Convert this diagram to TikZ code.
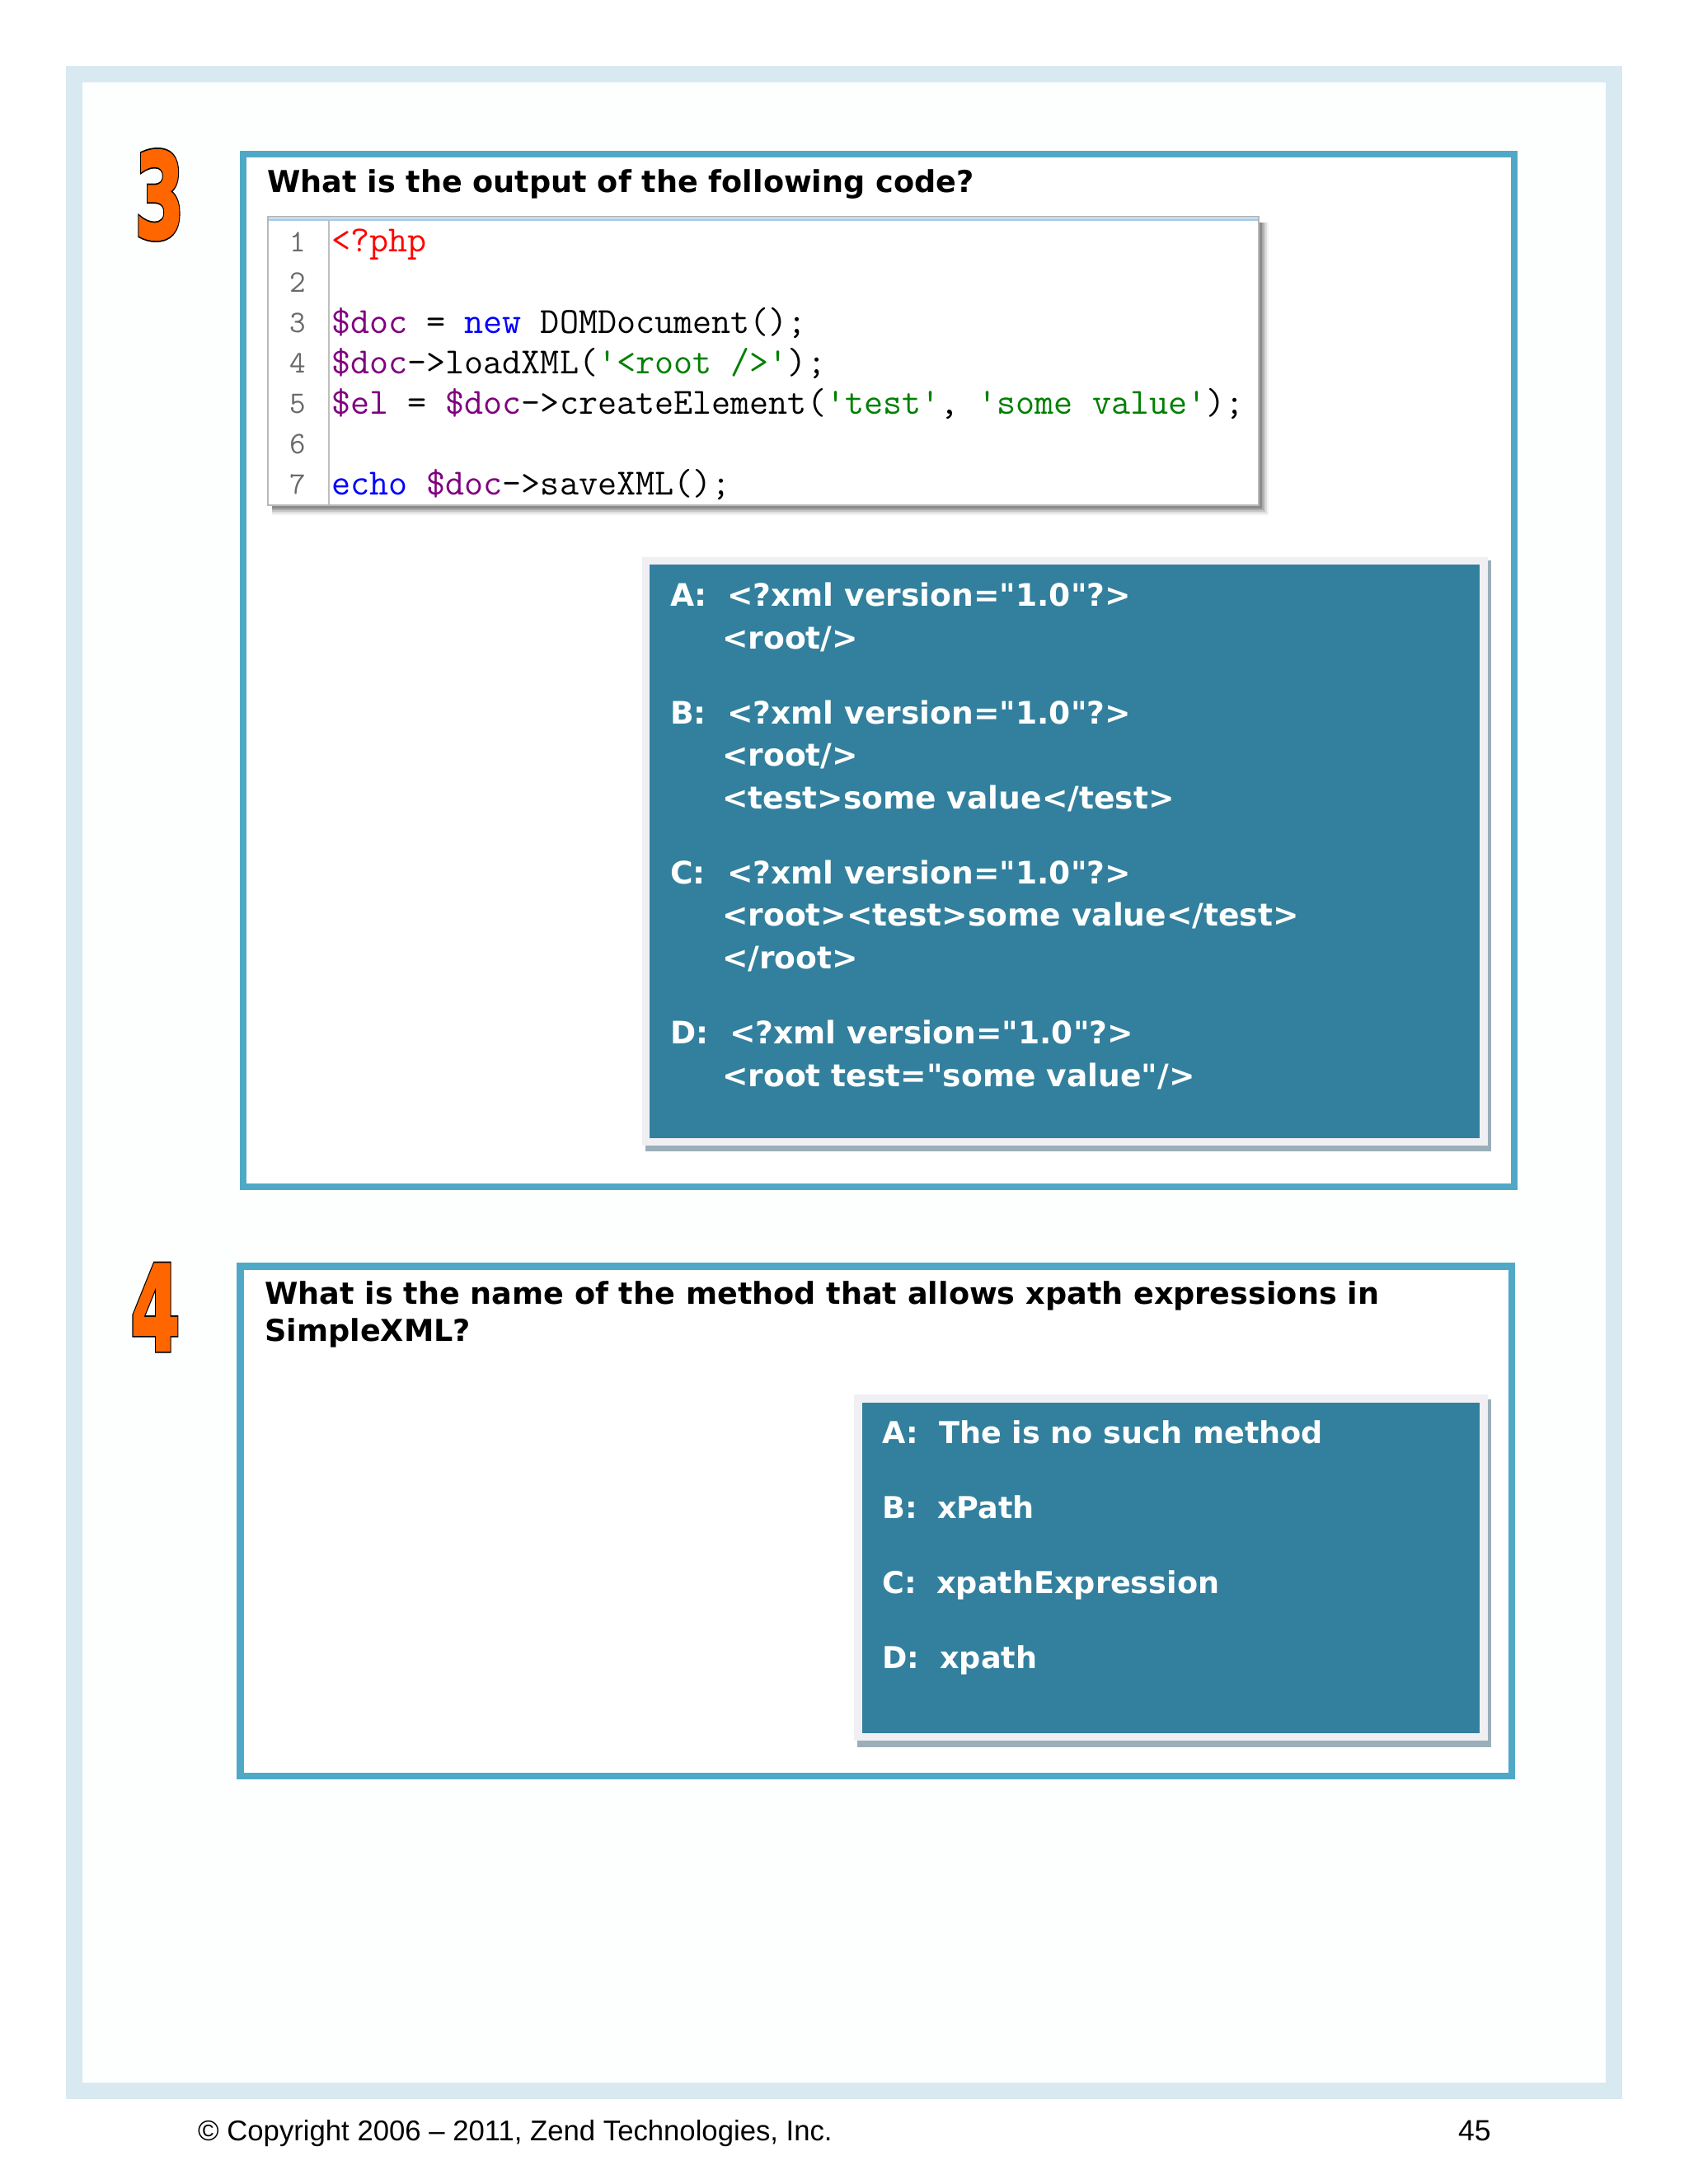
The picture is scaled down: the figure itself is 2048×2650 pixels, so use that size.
\documentclass[tikz,border=0pt]{standalone}
\usepackage{fontspec}
\setmainfont{Liberation Sans}
\newfontfamily\qfont{DejaVu Sans}
\newfontface\digout[FakeBold=5]{DejaVu Sans Bold}
\newfontface\digin[FakeBold=2.5]{DejaVu Sans Bold}
\definecolor{band}{HTML}{D9E9F1}
\definecolor{paper}{HTML}{FDFEFE}
\definecolor{qblue}{HTML}{4FA9C6}
\definecolor{ansbg}{HTML}{32809D}
\definecolor{ansedge}{HTML}{F0F0F4}
\definecolor{ansshadow}{HTML}{9AAFB8}
\definecolor{digit}{HTML}{FF6600}
\definecolor{kvar}{HTML}{800080}
\definecolor{kkey}{HTML}{0000FF}
\definecolor{kstr}{HTML}{008000}
\definecolor{kphp}{HTML}{FF0000}
\definecolor{knum}{HTML}{6A6A6A}
\definecolor{codetop}{HTML}{A9CBE8}
\tikzset{
 qframe/.style={draw=qblue,line width=8.4pt,fill=white},
 qtext/.style={anchor=base west,inner sep=0pt,text=black,font=\qfont\bfseries\fontsize{36.6}{44}\selectfont},
 atext/.style={anchor=base west,inner sep=0pt,text=white,font=\qfont\bfseries\fontsize{37.6}{44}\selectfont},
 btext/.style={anchor=base west,inner sep=0pt,text=white,font=\qfont\bfseries\fontsize{36.6}{44}\selectfont},
 codeline/.style={anchor=base west,inner sep=0pt,text=black,font=\ttfamily\fontsize{44.8}{49}\selectfont},
 lineno/.style={anchor=base,inner sep=0pt,text=knum,font=\ttfamily\fontsize{38}{49}\selectfont},
 foot/.style={anchor=base west,inner sep=0pt,text=black,font=\fontsize{34.7}{42}\selectfont},
}
\newcommand{\bigdigit}[3]{%
 \node[inner sep=0pt,text=black] (#1o) at (#2) {\scalebox{.57}[.95]{\digout\fontsize{150}{150}\selectfont #3}};
 \node[inner sep=0pt,text=digit] (#1) at (#2) {\scalebox{.57}[.95]{\digin\fontsize{150}{150}\selectfont #3}};
}
\begin{document}
\begin{tikzpicture}[x=1pt,y=-1pt]
\useasboundingbox (0,0) rectangle (2048,2650);
\fill[white] (0,0) rectangle (2048,2650);
\fill[band] (80,80) rectangle (1968,2547);
\fill[paper] (100,100) rectangle (1948,2527);
% digits
\bigdigit{dthree}{193.5,236.5}{3}
\bigdigit{dfour}{188.5,1586}{4}
% question 3
\draw[qframe] (295,187) rectangle (1837,1440);
\node[qtext] (q3) at (324,233) {What is the output of the following code?};
% code box
\foreach \o/\a in {11/.05,9/.08,7/.11,5/.14,3/.18}
  \fill[black,opacity=\a] (330,270) rectangle (1528+\o,614+\o);
\fill[white] (325,263) rectangle (1527,613);
\draw[line width=2.5pt,color=black!28] (325,263) rectangle (1527,613);
\draw[line width=3pt,color=codetop] (326,266) -- (1526,266);
\draw[line width=2pt,color=black!25] (399,267) -- (399,612);
\foreach \n/\y in {1/305,2/354,3/403,4/452,5/501,6/550,7/599}
  \node[lineno] (ln\n) at (361,\y) {\n};
\node[codeline] (c1) at (402,305) {\textcolor{kphp}{<?php}};
\node[codeline] (c3) at (402,404) {\textcolor{kvar}{\$doc} = \textcolor{kkey}{new} DOMDocument();};
\node[codeline] (c4) at (402,453) {\textcolor{kvar}{\$doc}->loadXML(\textcolor{kstr}{'<root />'});};
\node[codeline] (c5) at (402,502) {\textcolor{kvar}{\$el} = \textcolor{kvar}{\$doc}->createElement(\textcolor{kstr}{'test'}, \textcolor{kstr}{'some value'});};
\node[codeline] (c7) at (402,600) {\textcolor{kkey}{echo} \textcolor{kvar}{\$doc}->saveXML();};
% answers 3
\fill[ansshadow] (783,680) rectangle (1809,1397);
\fill[ansedge] (779,676) rectangle (1805,1390);
\fill[ansbg] (788,685) rectangle (1795,1381);
\node[atext] (a3a) at (813,735) {A:};
\node[atext] (a3at) at (882,735) {<?xml version="1.0"?>};
\node[atext] (a3ar) at (876,787) {<root/>};
\node[atext] (a3b) at (813,878) {B:};
\node[atext] (a3bt) at (882,878) {<?xml version="1.0"?>};
\node[atext] (a3br) at (876,929) {<root/>};
\node[atext] (a3bs) at (876,981) {<test>some value</test>};
\node[atext] (a3c) at (813,1072) {C:};
\node[atext] (a3ct) at (882,1072) {<?xml version="1.0"?>};
\node[atext] (a3cr) at (876,1123) {<root><test>some value</test>};
\node[atext] (a3cs) at (876,1175) {</root>};
\node[atext] (a3d) at (813,1266) {D:};
\node[atext] (a3dt) at (885,1266) {<?xml version="1.0"?>};
\node[atext] (a3dr) at (876,1318) {<root test="some value"/>};
% question 4
\draw[qframe] (291.5,1536.5) rectangle (1834,2155);
\node[qtext] (q4a) at (321,1582) {What is the name of the method that allows xpath expressions in};
\node[qtext] (q4b) at (321,1627) {SimpleXML?};
% answers 4
\fill[ansshadow] (1040,1698) rectangle (1809,2120);
\fill[ansedge] (1036,1692) rectangle (1805,2112);
\fill[ansbg] (1046,1702) rectangle (1795,2103);
\node[btext] (a4a) at (1070,1751) {A:};
\node[btext] (a4at) at (1139,1751) {The is no such method};
\node[btext] (a4b) at (1070,1842) {B:};
\node[btext] (a4bt) at (1137,1842) {xPath};
\node[btext] (a4c) at (1070,1933) {C:};
\node[btext] (a4ct) at (1136,1933) {xpathExpression};
\node[btext] (a4d) at (1070,2024) {D:};
\node[btext] (a4dt) at (1140,2024) {xpath};
% footer
\node[foot] (copy) at (240,2597) {© Copyright 2006 – 2011, Zend Technologies, Inc.};
\node[foot,font=\fontsize{35.5}{42}\selectfont] (page) at (1769,2597) {45};
\end{tikzpicture}
\end{document}
